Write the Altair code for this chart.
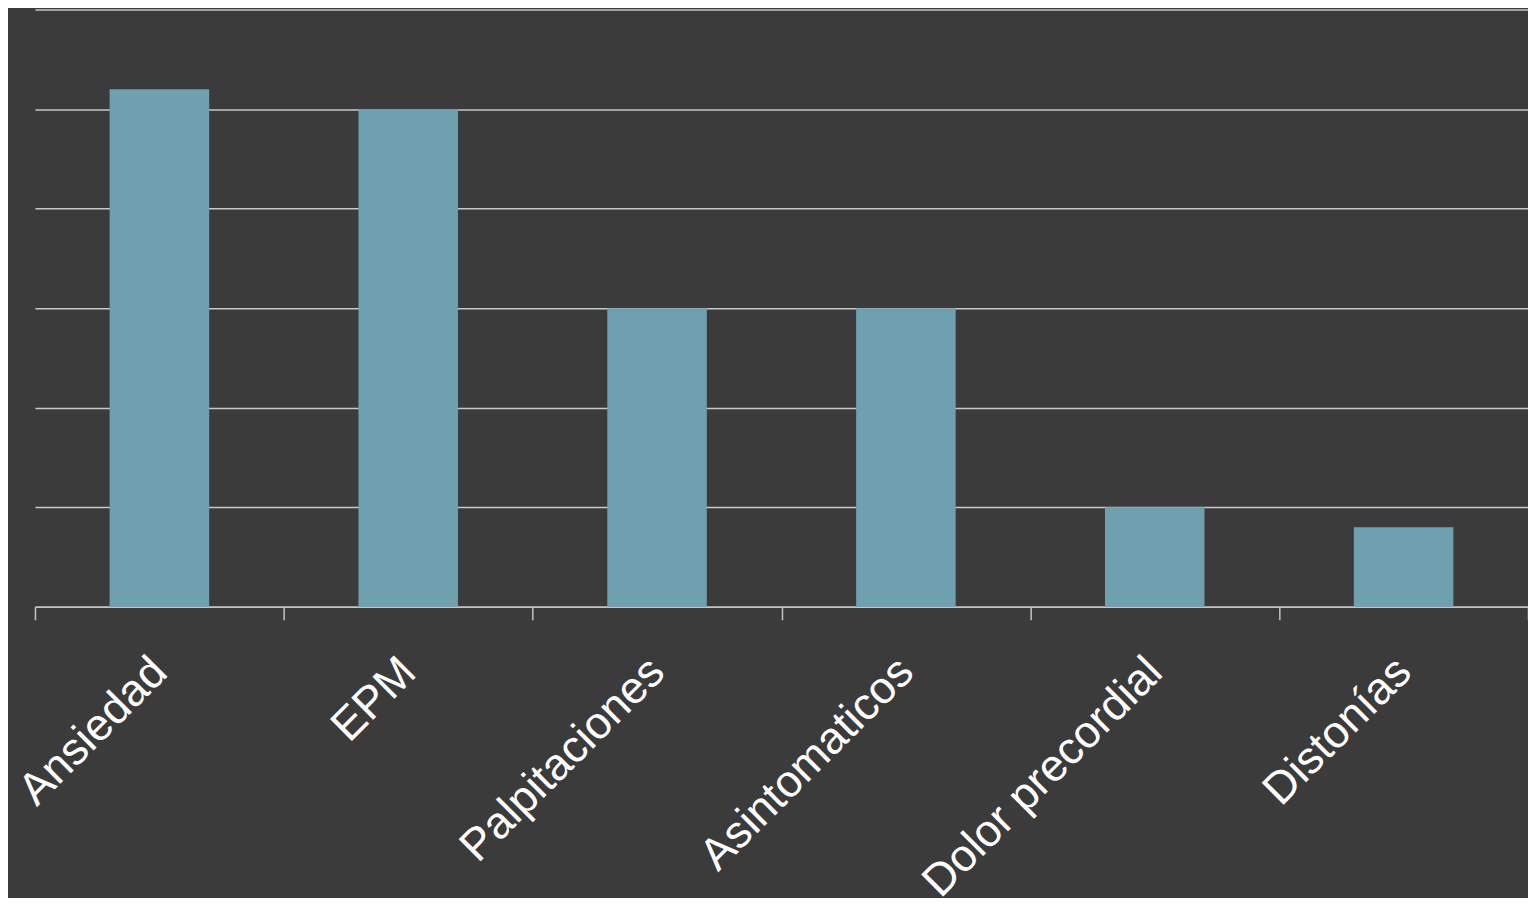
import altair as alt
import pandas as pd

categories = ["Ansiedad", "EPM", "Palpitaciones", "Asintomaticos", "Dolor precordial", "Distonías"]
values = [26, 25, 15, 15, 5, 4]
y_ticks = [0, 5, 10, 15, 20, 25, 30]

df = pd.DataFrame({"cat": categories, "val": values})

chart = alt.Chart(df).mark_bar(color="#6fa0b0", width=alt.RelativeBandSize(0.4)).encode(
    x=alt.X("cat:N", sort=categories, title=None,
            scale=alt.Scale(paddingInner=0, paddingOuter=0),
            axis=alt.Axis(labelAngle=-45, labelFontSize=45, labelColor="#ffffff",
                          labelFont="Liberation Sans", labelAlign="right", labelBaseline="top",
                          labelPadding=29, labelOffset=-16, tickBand="extent", tickSize=13,
                          tickWidth=1.5, tickColor="#c4c4c4", domainColor="#c4c4c4",
                          domainWidth=1.5, labelOverlap=False, labelLimit=0)),
    y=alt.Y("val:Q", title=None,
            scale=alt.Scale(domain=[0, 30], nice=False),
            axis=alt.Axis(values=y_ticks, labels=False, ticks=False, domain=False,
                          grid=True, gridColor="#c8c8c8", gridWidth=1.5)),
).properties(
    width=1495, height=598,
    background="#3b3b3b",
    autosize=alt.AutoSizeParams(type="none"),
    padding={"left": 27, "top": 1, "right": 0, "bottom": 291},
).configure_view(stroke=None)

chart.save("out.html", embed_options={"renderer": "svg", "actions": False})
